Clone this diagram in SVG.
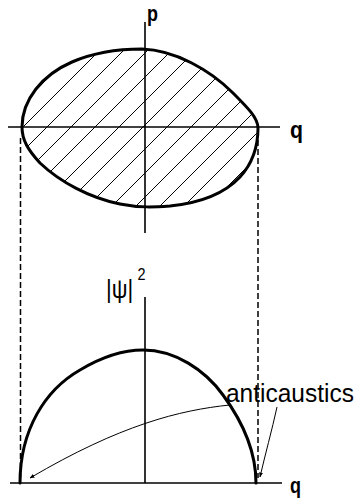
<svg xmlns="http://www.w3.org/2000/svg" width="357" height="502" viewBox="0 0 357 502">
<style>
.bg{fill:#fff}
.axis{stroke:#000;stroke-width:1.6;fill:none}
.thick{stroke:#000;stroke-width:3;fill:none;stroke-linejoin:round;stroke-linecap:round}
.hatch{stroke:#000;stroke-width:1}
.dash{stroke:#000;stroke-width:1.5;stroke-dasharray:6 3;fill:none}
.ptr{stroke:#000;stroke-width:1;fill:none}
.lbl{font-family:"Liberation Sans",Arial,sans-serif;fill:#000}
.bold{font-weight:bold}
</style>
<defs>
<clipPath id="eggclip">
<path d="M22,127 C22,100 42,75 72,62 C95,52 120,49 142,49 C175,50 210,70 233,93 C248,108 258,118 258,128 C258,150 251,165 240,177 C225,193 200,203 170,206 C155,207 140,208 120,204 C90,198 60,182 40,163 C28,150 22,140 22,127 Z"/>
</clipPath>
<marker id="arr" viewBox="0 0 10 10" refX="9" refY="5" markerWidth="5" markerHeight="5" orient="auto-start-reverse" markerUnits="userSpaceOnUse">
<path d="M0,1 L10,5 L0,9 Z" fill="#000"/>
</marker>
</defs>
<rect class="bg" x="0" y="0" width="357" height="502"/>

<g id="phase-space">
<g clip-path="url(#eggclip)">
<line class="hatch" x1="-124" y1="250" x2="126" y2="0"/>
<line class="hatch" x1="-100" y1="250" x2="150" y2="0"/>
<line class="hatch" x1="-76" y1="250" x2="174" y2="0"/>
<line class="hatch" x1="-52" y1="250" x2="198" y2="0"/>
<line class="hatch" x1="-28" y1="250" x2="222" y2="0"/>
<line class="hatch" x1="-4" y1="250" x2="246" y2="0"/>
<line class="hatch" x1="20" y1="250" x2="270" y2="0"/>
<line class="hatch" x1="44" y1="250" x2="294" y2="0"/>
<line class="hatch" x1="68" y1="250" x2="318" y2="0"/>
<line class="hatch" x1="92" y1="250" x2="342" y2="0"/>
<line class="hatch" x1="116" y1="250" x2="366" y2="0"/>
<line class="hatch" x1="140" y1="250" x2="390" y2="0"/>
<line class="hatch" x1="164" y1="250" x2="414" y2="0"/>
</g>
<path class="thick" d="M22,127 C22,100 42,75 72,62 C95,52 120,49 142,49 C175,50 210,70 233,93 C248,108 258,118 258,128 C258,150 251,165 240,177 C225,193 200,203 170,206 C155,207 140,208 120,204 C90,198 60,182 40,163 C28,150 22,140 22,127 Z"/>
<line class="axis" x1="145" y1="22" x2="145" y2="233"/>
<line class="axis" x1="8" y1="127" x2="280" y2="127"/>
<text class="lbl bold" x="147" y="21" font-size="22" textLength="11" lengthAdjust="spacingAndGlyphs">p</text>
<text class="lbl bold" x="290" y="138" font-size="23" textLength="13" lengthAdjust="spacingAndGlyphs">q</text>
</g>

<g id="projections">
<line class="dash" x1="20.5" y1="138" x2="20.5" y2="480"/>
<line class="dash" x1="258" y1="140" x2="258" y2="478"/>
</g>

<g id="density">
<line class="axis" x1="145" y1="297" x2="145" y2="483"/>
<line class="axis" x1="10" y1="483" x2="282" y2="483"/>
<path class="thick" d="M20,483 C20,430 45,390 80,370 C100,358 120,350 143,350 C175,350 205,370 223,395 C245,425 256,455 256,483"/>
<text class="lbl" font-size="26" transform="matrix(0.85 0 0 1 15.9 0)" x="106" y="298">|ψ|<tspan x="143" y="280" font-size="17">2</tspan></text>
<text class="lbl bold" x="290" y="493" font-size="22" textLength="11" lengthAdjust="spacingAndGlyphs">q</text>
</g>

<g id="anticaustics">
<text class="lbl" x="226" y="402" font-size="25" textLength="128" lengthAdjust="spacingAndGlyphs">anticaustics</text>
</g>

<g id="connectors">
<path class="ptr" d="M230,405 C180,410 120,425 30,478" marker-end="url(#arr)"/>
<path class="ptr" d="M277,407 C272,430 265,455 260,477" marker-end="url(#arr)"/>
</g>
</svg>
